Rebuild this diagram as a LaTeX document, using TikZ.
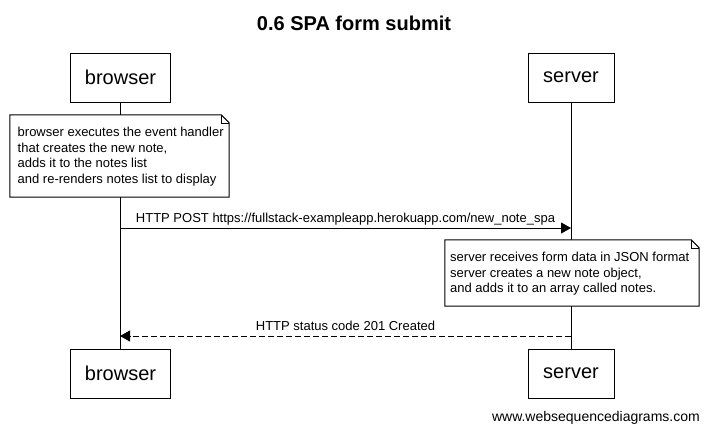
\documentclass[tikz,border=0pt]{standalone}
\usepackage{fontspec}
\setmainfont{Liberation Sans}
\usetikzlibrary{arrows.meta}
\begin{document}
\begin{tikzpicture}[x=1pt,y=-1pt,
  actor/.style={draw,line width=1pt,minimum width=#1,minimum height=49pt,inner sep=0pt,font=\fontsize{20}{24}\selectfont},
  noteshape/.style={minimum width=#1,inner sep=0pt},
  notetext/.style={anchor=west,align=left,inner sep=0pt,font=\fontsize{13}{15.6}\selectfont},
  msgtext/.style={anchor=base,inner sep=0pt,font=\fontsize{13}{15.6}\selectfont},
  lifeline/.style={line width=1pt},
  msg/.style={line width=1pt,-{Triangle[length=10pt,width=11pt]}},
  reply/.style={msg,dash pattern=on 6pt off 3pt},
  fold/.style={line width=1pt}
]
\useasboundingbox (0,0) rectangle (708,432);
\fill[white] (0,0) rectangle (708,432);

% title
\node[anchor=base,inner sep=0pt,font=\fontsize{20}{24}\selectfont\bfseries] (title) at (354,30) {0.6 SPA form submit};

% actors
\node[actor=100pt] (btop) at (120.5,77.5) {browser};
\node[actor=86pt] (stop) at (571,77.5) {server};
\node[actor=100pt] (bbot) at (120.5,373.5) {browser};
\node[actor=86pt] (sbot) at (571,373.5) {server};

% lifelines
\draw[lifeline] (btop.south) -- (bbot.north);
\draw[lifeline] (stop.south) -- (sbot.north);

% note 1
\node[noteshape=219pt,minimum height=82pt] (note1) at (119.5,156) {};
\draw[fold,fill=white] (note1.north west) -- ([xshift=-8pt]note1.north east) -- ([yshift=-8pt]note1.north east) -- (note1.south east) -- (note1.south west) -- cycle;
\draw[fold,line width=0.6pt] ([xshift=-8pt]note1.north east) -- ([xshift=-8pt,yshift=-8pt]note1.north east) -- ([yshift=-8pt]note1.north east);
\node[notetext] (note1text) at (17.5,156.5) {browser executes the event handler\\that creates the new note,\\adds it to the notes list\\and re-renders notes list to display};

% message 1
\coordinate (m1a) at (120,228);
\coordinate (m1b) at (571,228);
\draw[msg] (m1a) -- (m1b);
\node[msgtext] (m1label) at (345.5,222) {HTTP POST https://fullstack-exampleapp.herokuapp.com/new\_note\_spa};

% note 2
\node[noteshape=254pt,minimum height=66pt] (note2) at (572,273) {};
\draw[fold,fill=white] (note2.north west) -- ([xshift=-8pt]note2.north east) -- ([yshift=-8pt]note2.north east) -- (note2.south east) -- (note2.south west) -- cycle;
\draw[fold,line width=0.6pt] ([xshift=-8pt]note2.north east) -- ([xshift=-8pt,yshift=-8pt]note2.north east) -- ([yshift=-8pt]note2.north east);
\node[notetext] (note2text) at (450,274) {server receives form data in JSON format\\server creates a new note object,\\and adds it to an array called notes.};

% message 2
\coordinate (m2a) at (571,336);
\coordinate (m2b) at (120,336);
\draw[reply] (m2a) -- (m2b);
\node[msgtext] (m2label) at (345.5,330) {HTTP status code 201 Created};

% footer
\node[anchor=base east,inner sep=0pt,font=\fontsize{14}{16.8}\selectfont] (footer) at (700,421) {www.websequencediagrams.com};
\end{tikzpicture}
\end{document}
